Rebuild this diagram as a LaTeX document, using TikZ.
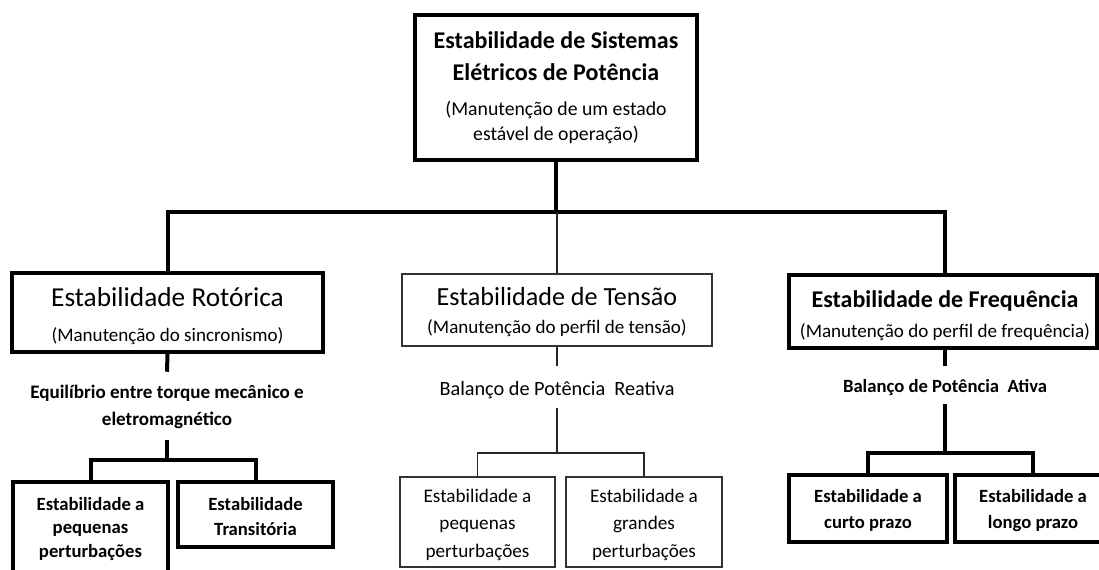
\documentclass[tikz,border=0pt]{standalone}
\usepackage{fontspec}
\setmainfont{Carlito}
\begin{document}
\begin{tikzpicture}[x=0.75pt,y=-0.75pt,
  thickbox/.style={draw=black,line width=3pt,inner sep=0pt},
  thinbox/.style={draw=black!80,line width=0.8pt,inner sep=0pt},
  thickline/.style={draw=black,line width=3pt},
  thinline/.style={draw=black!85,line width=0.8pt},
  ttl/.style={anchor=base,inner sep=0pt,font=\fontsize{18}{22}\selectfont\bfseries},
  ttlr/.style={anchor=base,inner sep=0pt,font=\fontsize{19.6}{22}\selectfont},
  sub/.style={anchor=base,inner sep=0pt,font=\fontsize{14.3}{18}\selectfont},
  lbl/.style={anchor=base,inner sep=0pt,font=\fontsize{14.4}{18}\selectfont},
  lblb/.style={anchor=base,inner sep=0pt,font=\fontsize{14}{18}\selectfont\bfseries},
  label/.style={inner sep=0pt,minimum width=7.5pt}
]
\useasboundingbox (0,0) rectangle (1099,569);

% ---- boxes (sizes in px * 0.75pt) ----
\node[thickbox, minimum width=282*0.75pt, minimum height=145*0.75pt] (main) at (556,87.5) {};
\node[thickbox, minimum width=311*0.75pt, minimum height=79*0.75pt] (rot) at (167.5,312.5) {};
\node[thinbox, minimum width=310*0.75pt, minimum height=72*0.75pt] (ten) at (557,310) {};
\node[thickbox, minimum width=308*0.75pt, minimum height=73*0.75pt] (fre) at (943,311.5) {};

\node[thickbox, minimum width=155*0.75pt, minimum height=92*0.75pt] (rb1) at (90.5,528) {};
\node[thickbox, minimum width=155*0.75pt, minimum height=65*0.75pt] (rb2) at (255.5,514.5) {};
\node[thinbox, minimum width=155*0.75pt, minimum height=90*0.75pt] (tb1) at (477.5,522) {};
\node[thinbox, minimum width=156*0.75pt, minimum height=90*0.75pt] (tb2) at (644,522) {};
\node[thickbox, minimum width=158*0.75pt, minimum height=67*0.75pt] (fb1) at (868,508.5) {};
\node[thickbox, minimum width=155*0.75pt, minimum height=67*0.75pt] (fb2) at (1032.5,508.5) {};

% ---- label slots between boxes ----
\node[label, minimum height=68*0.75pt] (req) at (167,406) {};
\node[label, minimum height=42*0.75pt] (tbal) at (557,387) {};
\node[label, minimum height=38*0.75pt] (fbal) at (945,385) {};

% ---- texts ----
\node[ttl] (m1) at (556,48) {Estabilidade de Sistemas};
\node[ttl] (m2) at (556,80) {Elétricos de Potência};
\node[sub, font=\fontsize{14.8}{18}\selectfont] (m3) at (556,115) {(Manutenção de um estado};
\node[sub, font=\fontsize{14.8}{18}\selectfont] (m4) at (556,140) {estável de operação)};

\node[ttlr, font=\fontsize{20.5}{24}\selectfont] (r1) at (167.5,306.5) {Estabilidade Rotórica};
\node[sub] (r2) at (167.5,341.5) {(Manutenção do sincronismo)};
\node[lblb, font=\fontsize{14.3}{18}\selectfont\bfseries] (r3) at (167,398) {Equilíbrio entre torque mecânico e};
\node[lblb, font=\fontsize{14.3}{18}\selectfont\bfseries] (r4) at (167,425) {eletromagnético};

\node[ttlr] (t1) at (557,305) {Estabilidade de Tensão};
\node[sub] (t2) at (557,333) {(Manutenção do perfil de tensão)};
\node[lbl, font=\fontsize{15.2}{18}\selectfont] (t3) at (557,395) {Balanço de Potência~~Reativa};

\node[ttl] (f1) at (945,307) {Estabilidade de Frequência};
\node[sub] (f2) at (945,337) {(Manutenção do perfil de frequência)};
\node[lblb] (f3) at (945,392) {Balanço de Potência~~Ativa};

\node[lblb] (rb1a) at (90.5,510) {Estabilidade a};
\node[lblb] (rb1b) at (90.5,533.5) {pequenas};
\node[lblb] (rb1c) at (90.5,557) {perturbações};
\node[lblb] (rb2a) at (255.5,510) {Estabilidade};
\node[lblb] (rb2b) at (255.5,535) {Transitória};

\node[lbl] (tb1a) at (477.5,502) {Estabilidade a};
\node[lbl] (tb1b) at (477.5,529) {pequenas};
\node[lbl] (tb1c) at (477.5,557) {perturbações};
\node[lbl] (tb2a) at (644,502) {Estabilidade a};
\node[lbl] (tb2b) at (644,529) {grandes};
\node[lbl] (tb2c) at (644,557) {perturbações};

\node[lblb] (fb1a) at (868,502) {Estabilidade a};
\node[lblb] (fb1b) at (868,528) {curto prazo};
\node[lblb] (fb2a) at (1033,502) {Estabilidade a};
\node[lblb] (fb2b) at (1033,528) {longo prazo};

% ---- connectors ----
\coordinate (bar) at (556,212);
\coordinate (rj) at (167,460);
\coordinate (tj) at (557,453);
\coordinate (fj) at (945,453);

\draw[thickline] (main.south) -- (bar);
\draw[thickline] (rot.north) -- (rot.north |- bar) -- (fbal.north |- bar) -- (fbal.north |- fre.north);
\draw[thinline] (ten.north) -- (ten.north |- bar);

\draw[thickline] (rot.south) -- (req.north);
\draw[thickline] (req.south) -- (rj);
\draw[thickline] (rb1.north) -- (rb1.north |- rj) -- (rb2.north |- rj) -- (rb2.north);

\draw[thinline] (ten.south) -- (tbal.north);
\draw[thinline] (tbal.south) -- (tj);
\draw[thinline] (tb1.north) -- (tb1.north |- tj) -- (tb2.north |- tj) -- (tb2.north);

\draw[thickline] (fbal.north |- fre.south) -- (fbal.north);
\draw[thickline] (fbal.south) -- (fj);
\draw[thickline] (fb1.north) -- (fb1.north |- fj) -- (fb2.north |- fj) -- (fb2.north);
\end{tikzpicture}
\end{document}
